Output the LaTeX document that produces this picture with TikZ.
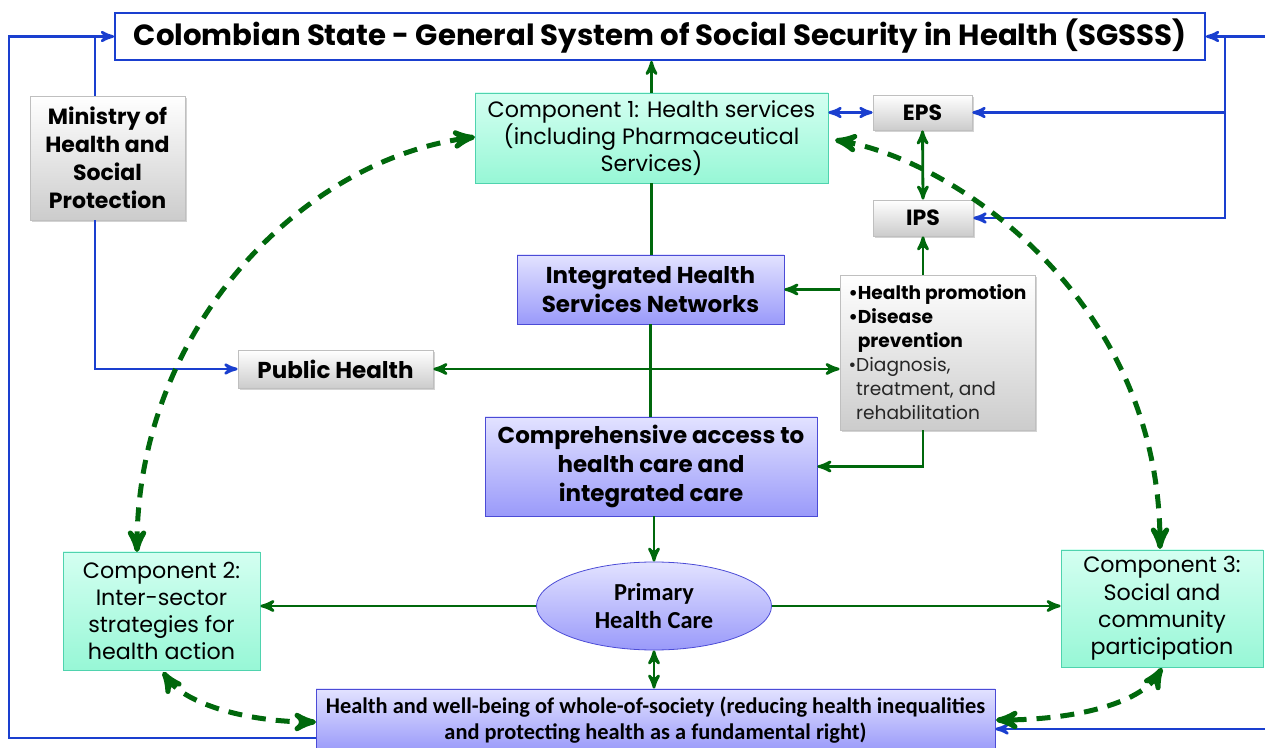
\documentclass[tikz,border=0pt]{standalone}
\usepackage{fontspec}
\setmainfont{Poppins}
\newfontfamily\carlito{Carlito}
\usetikzlibrary{calc}
\usetikzlibrary{arrows}
\usetikzlibrary{shadows,shapes.geometric}
\usepackage{xcolor}
\definecolor{sgsssblue}{HTML}{1A3FCF}
\definecolor{ruta}{HTML}{00680C}
\definecolor{comptop}{HTML}{D4FFF1}
\definecolor{compbot}{HTML}{97F7D6}
\definecolor{compedge}{HTML}{4FD3AE}
\definecolor{lilatop}{HTML}{E2E2FF}
\definecolor{lilabot}{HTML}{9A9AFA}
\definecolor{lilaedge}{HTML}{4B4BD6}

\begin{document}
\begin{tikzpicture}[x=0.5pt,y=-0.5pt,>=stealth',
 box/.style={draw, align=center, inner sep=1pt, text=black},
 compbox/.style={box, draw=compedge, top color=comptop, bottom color=compbot, font=\fontsize{11.1}{13.6}\selectfont},
 greybox/.style={box, draw=gray!50, top color=white, bottom color=gray!40, drop shadow={opacity=0.35, shadow xshift=1pt, shadow yshift=-1.2pt}, font=\bfseries\fontsize{11}{14}\selectfont},
 lilabox/.style={box, draw=lilaedge, top color=lilatop, bottom color=lilabot, font=\bfseries\fontsize{11.5}{14.5}\selectfont},
 gline/.style={ruta, line width=1.4pt},
 bline/.style={sgsssblue, line width=1.3pt},
 gdash/.style={ruta, line width=2.5pt, dash pattern=on 7pt off 5pt, <->}]
\useasboundingbox (0,0) rectangle (1265,748);

\node[box, draw=sgsssblue, line width=0.9pt, fill=white, minimum width=545pt, minimum height=23.5pt, font=\bfseries\fontsize{14.6}{18}\selectfont] (sgsss) at (660,36.5) {Colombian State - General System of Social Security in Health (SGSSS)};
\node[compbox, minimum width=176.5pt, minimum height=45pt] (comp1) at (651.5,138) {Component 1: Health services\\(including Pharmaceutical\\Services)};
\node[greybox, minimum width=49.5pt, minimum height=17.5pt] (eps) at (922.5,112.5) {EPS};
\node[greybox, minimum width=50pt, minimum height=18pt] (ips) at (923,218) {IPS};
\node[greybox, minimum width=77.5pt, minimum height=62pt] (ministry) at (107.5,158) {Ministry of\\Health and\\Social\\Protection};
\node[lilabox, minimum width=133.5pt, minimum height=34.5pt] (ihsn) at (650.5,289.5) {Integrated Health\\Services Networks};
\node[greybox, align=left, minimum width=97.5pt, minimum height=77.5pt, font=\fontsize{9.3}{12}\selectfont] (prevent) at (937.5,352.5) {\textbf{\textbullet Health promotion}\\\textbf{\textbullet Disease}\\\textbf{\phantom{\textbullet}prevention}\\{\color{black!85}\textbullet Diagnosis,}\\{\color{black!85}\phantom{\textbullet}treatment, and}\\{\color{black!85}\phantom{\textbullet}rehabilitation}};
\node[greybox, minimum width=97.5pt, minimum height=19pt, font=\bfseries\fontsize{11.5}{14}\selectfont] (pubhealth) at (335.5,369) {Public Health};
\node[lilabox, minimum width=166pt, minimum height=49.5pt] (access) at (651,466.5) {Comprehensive access to\\health care and\\integrated care};
\node[ellipse, box, draw=lilaedge, top color=lilatop, bottom color=lilabot, minimum width=117.5pt, minimum height=44pt, font=\carlito\bfseries\fontsize{12.2}{13.6}\selectfont] (phc) at (654,606) {Primary\\Health Care};
\node[compbox, minimum width=98.5pt, minimum height=59pt] (comp2) at (161.5,611) {Component 2:\\Inter-sector\\strategies for\\health action};
\node[compbox, minimum width=101pt, minimum height=58.5pt] (comp3) at (1162,608.5) {Component 3:\\Social and\\community\\participation};
\node[lilabox, minimum width=339.5pt, minimum height=31pt, font=\carlito\bfseries\fontsize{11.2}{13}\selectfont] (society) at (655.5,720) {Health and well-being of whole-of-society (reducing health inequalities\\and protecting health as a fundamental right)};

\coordinate (ltop) at (9,36.5);
\coordinate (lbot) at (9,738);
\coordinate (rtop) at (1225,36.5);
\coordinate (redge) at (1285,36.5);
\coordinate (redgeb) at (1285,729);

\draw[gline, ->] (comp1.north) -- (comp1.north |- sgsss.south);
\draw[gline] (comp1.south) -- (comp1.south |- ihsn.north);
\draw[gline] (ihsn.south) -- (ihsn.south |- access.north);
\draw[gline, ->] (phc.north |- access.south) -- (phc.north);
\draw[gline, <->] (phc.south) -- (phc.south |- society.north);
\draw[gline, <->] (eps.south) -- (ips.north);
\draw[gline, ->] (ips.south |- prevent.north) -- (ips.south);
\draw[gline, ->] (prevent.west |- ihsn.east) -- (ihsn.east);
\draw[gline, <->] (pubhealth.east) -- (pubhealth.east -| prevent.west);
\draw[gline, ->] (ips.south |- prevent.south) |- (access.east);
\draw[gline, ->] (phc.west) -- (phc.west -| comp2.east);
\draw[gline, ->] (phc.east) -- (phc.east -| comp3.west);

\draw[bline, <->] (comp1.east |- eps.west) -- (eps.west);
\draw[bline, ->] (lbot -| society.west) -- (lbot) -- (ltop) -- (sgsss.west);
\draw[bline] ([xshift=-6.25pt]ministry.north) -- ([xshift=-6.25pt]ministry.north |- ltop);
\draw[bline, ->] ([xshift=-6.25pt]ministry.south) |- (pubhealth.west);
\draw[bline, ->] (redge) -- (sgsss.east);
\draw[bline, ->] (rtop) |- (eps.east);
\draw[bline, ->] (rtop) |- (ips.east);
\draw[bline, ->] (redge) -- (redgeb) -- (redgeb -| society.east);

\draw[gdash] (137,552) .. controls (137,330) and (300,160) .. (475,137);
\draw[gdash] (835,140) .. controls (955,160) and (1160,300) .. (1160,549);
\draw[gdash] (163,672) .. controls (185,705) and (250,722) .. (316,722);
\draw[gdash] (1162,668) .. controls (1140,705) and (1070,720) .. (996,720);
\end{tikzpicture}
\end{document}
